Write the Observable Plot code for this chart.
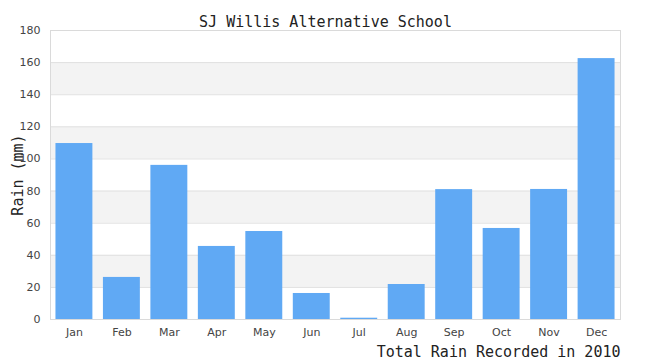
<!DOCTYPE html>
<html><head><meta charset="utf-8">
<script src="https://cdn.jsdelivr.net/npm/d3@7"></script>
<script src="https://cdn.jsdelivr.net/npm/@observablehq/plot@0.6"></script>
<style>body{margin:0;background:#fff}</style>
</head><body><div id="chart"></div>
<script>
const months = ["Jan","Feb","Mar","Apr","May","Jun","Jul","Aug","Sep","Oct","Nov","Dec"];
const rain = [109.6, 26.2, 96, 45.5, 54.8, 16.2, 0.8, 21.8, 80.9, 56.7, 81, 162.5];
const yTicks = [0,20,40,60,80,100,120,140,160,180];
const bandStarts = [20,60,100,140];
const title = "SJ Willis Alternative School";
const yLabel = "Rain (mm)";
const xLabel = "Total Rain Recorded in 2010";

const data = months.map((m,i)=>({month:m, value:rain[i]}));
const bands = bandStarts.map(s=>({y1:s, y2:s+20}));
const mono = "'DejaVu Sans Mono', monospace";

const plot = Plot.plot({
  width: 650, height: 360,
  marginLeft: 50, marginRight: 30, marginTop: 30, marginBottom: 41,
  style: {fontFamily: "'DejaVu Sans', sans-serif", fontSize: "11px", color: "#444", background: "#fff"},
  x: {domain: months, paddingInner: 0.222, paddingOuter: 0.115, round: false, label: null, tickSize: 0, tickPadding: 9},
  y: {domain: [0,180], ticks: yTicks, label: null, tickSize: 0, tickPadding: 10},
  marks: [
    Plot.rect(bands, {y1:"y1", y2:"y2", fill:"#f3f3f3"}),
    Plot.ruleY(yTicks, {stroke:"#e0e0e0", strokeWidth:1}),
    Plot.barY(data, {x:"month", y:"value", fill:"#60a9f4"}),
    Plot.frame({stroke:"#dadada"}),
    Plot.text([title], {frameAnchor:"top", dx:-10, dy:-14, text:d=>d, fontFamily:mono, fontSize:15, fill:"#222"}),
    Plot.text([yLabel], {frameAnchor:"left", dx:-32, rotate:-90, textAnchor:"middle", text:d=>d, fontFamily:mono, fontSize:15, fill:"#222"}),
    Plot.text([xLabel], {frameAnchor:"bottom-right", dy:37, textAnchor:"end", text:d=>d, fontFamily:mono, fontSize:15, fill:"#222"})
  ]
});
document.getElementById("chart").append(plot);
</script>
</body></html>
